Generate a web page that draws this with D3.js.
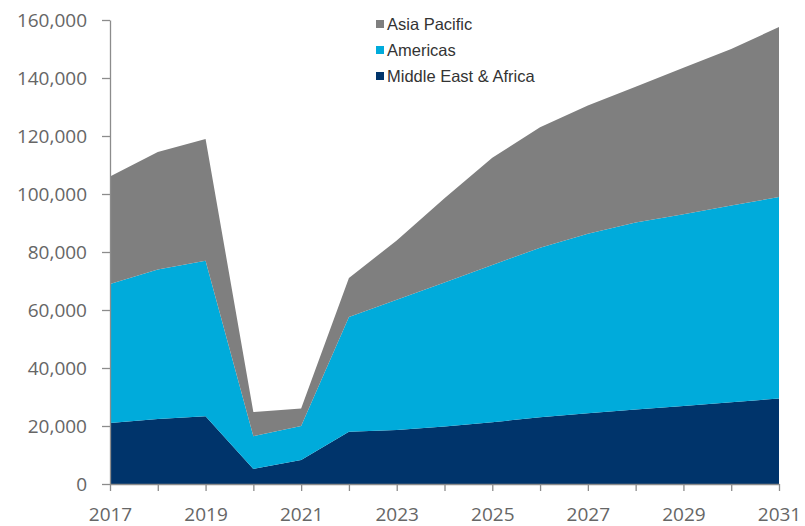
<!DOCTYPE html>
<html lang="en">
<head>
<meta charset="utf-8">
<title>Stacked area by region</title>
<script src="https://cdnjs.cloudflare.com/ajax/libs/d3/7.8.5/d3.min.js"></script>
<style>
body { margin: 0; background: #fff; }
.axis path, .axis line { fill: none; stroke: #8c8c8c; stroke-width: 1.3px; }
.axis text { font-family: "Open Sans", sans-serif; font-size: 19px; fill: #666; }
.legend text { font-family: "Liberation Sans", Arial, sans-serif; font-size: 16.5px; fill: #333; }
</style>
</head>
<body>
<script>
var years = [2017, 2018, 2019, 2020, 2021, 2022, 2023, 2024, 2025, 2026, 2027, 2028, 2029, 2030, 2031];
var middleEastAfrica = [21000, 22400, 23400, 5200, 8300, 18000, 18600, 19800, 21300, 23000, 24400, 25700, 26900, 28200, 29500];
var americas = [48000, 51600, 53600, 11300, 11700, 39600, 44900, 49700, 54200, 58500, 61900, 64500, 66100, 67800, 69500];
var asiaPacific = [37000, 40500, 42000, 8300, 6000, 13400, 20500, 29000, 37000, 41500, 44200, 46800, 50500, 54000, 58600];
var seriesNames = ["Middle East & Africa", "Americas", "Asia Pacific"];
var yTicks = [0, 20000, 40000, 60000, 80000, 100000, 120000, 140000, 160000];

var w = 805, h = 526;
var padLeft = 110, padTop = 20, plotRight = 779, plotBottom = 484;
var colors = {"Middle East & Africa": "#00346b", "Americas": "#00abdb", "Asia Pacific": "#7f7f7f"};

var rows = years.map(function(yr, i) {
  return {year: yr, "Middle East & Africa": middleEastAfrica[i], "Americas": americas[i], "Asia Pacific": asiaPacific[i]};
});

var layers = d3.stack().keys(seriesNames)(rows);

var xScale = d3.scaleLinear().domain([2017, 2031]).range([padLeft, plotRight]);
var yScale = d3.scaleLinear().domain([0, 160000]).range([plotBottom, padTop]);

var svg = d3.select("body").append("svg").attr("width", w).attr("height", h);

var area = d3.area()
  .x(function(d) { return xScale(d.data.year); })
  .y0(function(d) { return yScale(d[0]); })
  .y1(function(d) { return yScale(d[1]); });

svg.selectAll("path.layer")
  .data(layers)
  .enter().append("path")
  .attr("class", "layer")
  .attr("d", area)
  .attr("fill", function(d) { return colors[d.key]; });

var fmt = d3.format(",");
var yAxis = d3.axisLeft(yScale).tickValues(yTicks).tickFormat(fmt).tickSize(8).tickSizeOuter(0).tickPadding(15);
svg.append("g").attr("class", "axis").attr("transform", "translate(" + padLeft + ",0)").call(yAxis);

var xAxis = d3.axisBottom(xScale).tickValues(years)
  .tickFormat(function(d) { return (d - 2017) % 2 === 0 ? d : ""; })
  .tickSize(7).tickSizeOuter(0).tickPadding(17);
svg.append("g").attr("class", "axis").attr("transform", "translate(0," + plotBottom + ")").call(xAxis);

// legend, top series first
var legendItems = seriesNames.slice().reverse();
var legend = svg.append("g").attr("class", "legend").attr("transform", "translate(376,24)");
var item = legend.selectAll("g").data(legendItems).enter().append("g")
  .attr("transform", function(d, i) { return "translate(0," + i * 26 + ")"; });
item.append("rect").attr("x", 0).attr("y", -4).attr("width", 8).attr("height", 8)
  .attr("fill", function(d) { return colors[d]; });
item.append("text").attr("x", 11).attr("y", 6).text(function(d) { return d; });
</script>
</body>
</html>
